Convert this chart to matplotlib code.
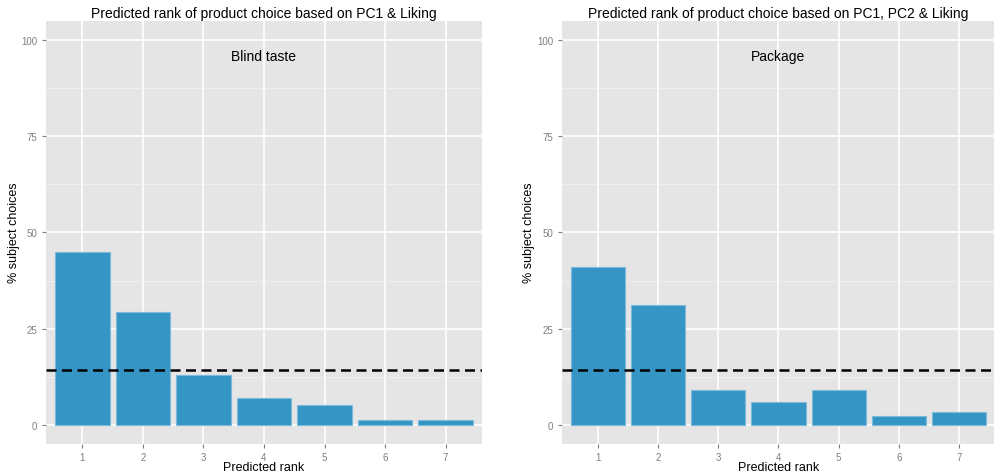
import matplotlib
matplotlib.use('Agg')
import matplotlib.pyplot as plt
import numpy as np

plt.rcParams['font.family'] = ['Liberation Sans', 'DejaVu Sans']

# data
ranks = [1, 2, 3, 4, 5, 6, 7]
blind_pct = [45.0, 29.3, 13.0, 7.0, 5.1, 1.2, 1.2]
package_pct = [41.0, 31.2, 9.0, 6.0, 9.0, 2.2, 3.2]
chance_level = 100.0 / 7
titles = ['Predicted rank of product choice based on PC1 & Liking',
          'Predicted rank of product choice based on PC1, PC2 & Liking']
labels = ['Blind taste', 'Package']
yticks = [0, 25, 50, 75, 100]

fig = plt.figure(figsize=(9.95, 4.77), dpi=100)
ax1 = fig.add_axes([0.0462, 0.0671, 0.4382, 0.8868])
ax2 = fig.add_axes([0.5648, 0.0671, 0.4352, 0.8868])

for ax, vals, ttl, lab in zip([ax1, ax2], [blind_pct, package_pct], titles, labels):
    ax.set_facecolor('#E5E5E5')
    for s in ax.spines.values():
        s.set_visible(False)
    ax.set_xlim(0.4, 7.6)
    ax.set_ylim(-5, 105)
    ax.set_yticks(yticks)
    ax.set_yticks([12.5, 37.5, 62.5, 87.5], minor=True)
    ax.set_xticks(ranks)
    ax.grid(which='major', color='white', linewidth=1.2)
    ax.grid(which='minor', axis='y', color='#F2F2F2', linewidth=0.6)
    ax.set_axisbelow(True)
    ax.tick_params(which='major', colors='#7F7F7F', labelsize=7, length=3, width=0.8)
    ax.tick_params(which='minor', length=0)
    ax.tick_params(axis='x', pad=2.5)
    ax.bar(ranks, vals, width=0.9, color='#3596C6', edgecolor='#7DB9D8', linewidth=0.8, zorder=2)
    ax.axhline(chance_level, color='black', linestyle=(0, (4, 2.2)), linewidth=1.8, zorder=3)
    ax.set_title(ttl, fontsize=10, pad=3)
    ax.text(4, 96, lab, ha='center', va='center', fontsize=10)

# axis labels placed by hand so they stay inside the canvas
fig.text(0.2653, 0.019, 'Predicted rank', ha='center', va='center', fontsize=9)
fig.text(0.7824, 0.019, 'Predicted rank', ha='center', va='center', fontsize=9)
fig.text(0.014, 0.5115, '% subject choices', ha='center', va='center', rotation=90, fontsize=9)
fig.text(0.532, 0.5115, '% subject choices', ha='center', va='center', rotation=90, fontsize=9)

fig.savefig('out.png', dpi=100)
